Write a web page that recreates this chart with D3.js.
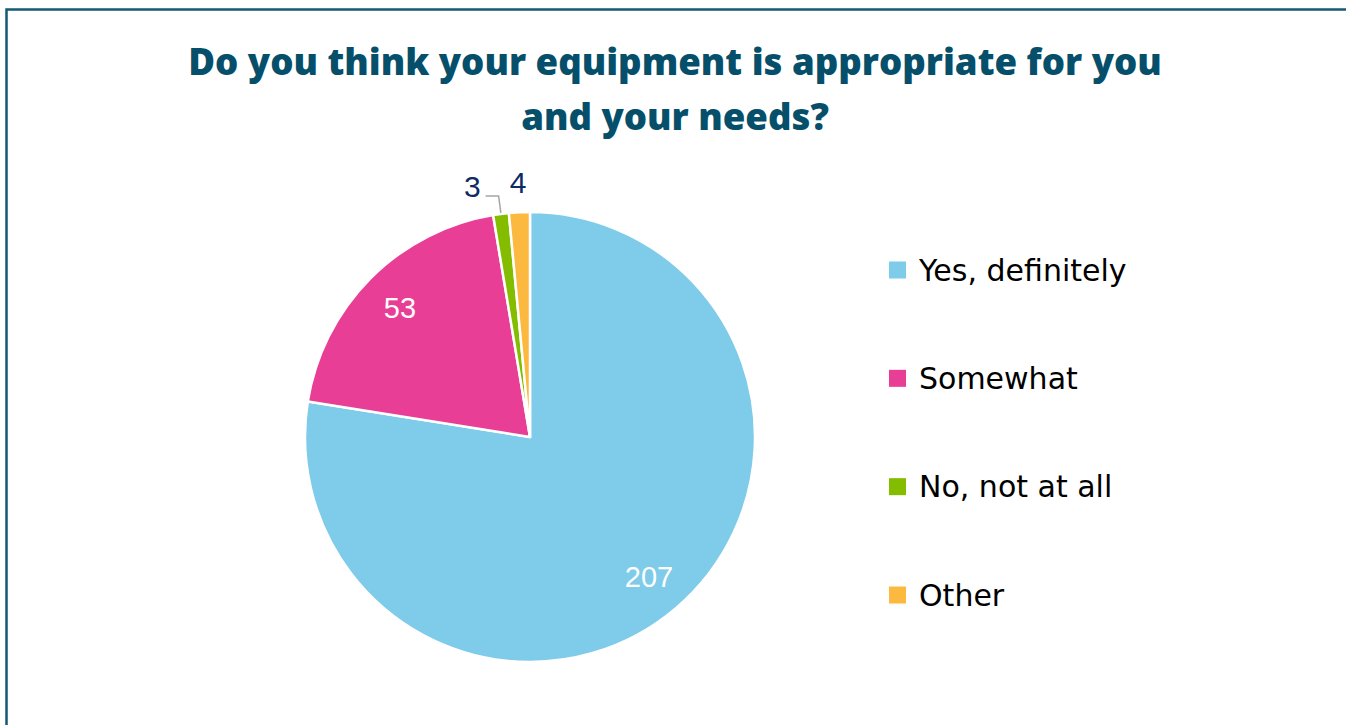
<!DOCTYPE html>
<html>
<head>
<meta charset="utf-8">
<script src="https://cdn.jsdelivr.net/npm/d3@7"></script>
<style>
  html, body { margin: 0; padding: 0; background: #fff; }
  svg { display: block; }
</style>
</head>
<body>
<svg id="chart" width="1346" height="725"></svg>
<script>
// Survey answers and counts
const categories = ["Yes, definitely", "Somewhat", "No, not at all", "Other"];
const counts = [207, 53, 3, 4];
const colors = ["#7ECBEA", "#E83E96", "#84BC00", "#FBB93F"];
const titleLines = ["Do you think your equipment is appropriate for you", "and your needs?"];

const W = 1346, H = 725;
const svg = d3.select("#chart");

// Outer frame
svg.append("rect")
  .attr("x", 6.5).attr("y", 9.5)
  .attr("width", W - 5).attr("height", H + 20)
  .attr("fill", "none")
  .attr("stroke", "#135A74")
  .attr("stroke-width", 2.5);

// Title
const titleFont = "'Open Sans', 'DejaVu Sans', sans-serif";
const title = svg.append("text")
  .attr("text-anchor", "middle")
  .attr("fill", "#064F6A")
  .attr("font-family", titleFont)
  .attr("font-weight", 800)
  .attr("font-size", 36);
titleLines.forEach((t, i) => {
  title.append("tspan").attr("x", 675).attr("y", 75 + i * 55).text(t);
});
// scale title so the first line spans its intended width
{
  const w = title.select("tspan").node().getComputedTextLength();
  const fs = 36 * 974 / w;
  title.attr("font-size", Math.min(fs, 44));
}

// Pie
const cx = 530, cy = 437, R = 225;
const pie = d3.pie().sort(null).value(d => d)(counts);
const arc = d3.arc().innerRadius(0).outerRadius(R);
const g = svg.append("g").attr("transform", `translate(${cx},${cy})`);

g.selectAll("path.slice")
  .data(pie)
  .join("path")
  .attr("class", "slice")
  .attr("d", arc)
  .attr("fill", (d, i) => colors[i])
  .attr("stroke", "#fff")
  .attr("stroke-width", 2.5)
  .attr("stroke-linejoin", "round");

const labelFont = "'Liberation Sans', Arial, sans-serif";
const polar = (a, r) => [r * Math.sin(a), -r * Math.cos(a)];
const mid = d => (d.startAngle + d.endAngle) / 2;

// Inside labels for the large slices
g.selectAll("text.inside")
  .data(pie.filter(d => d.value > 20))
  .join("text")
  .attr("class", "inside")
  .attr("x", d => polar(mid(d), R * 0.815)[0])
  .attr("y", d => polar(mid(d), R * 0.815)[1])
  .attr("dy", "0.35em")
  .attr("text-anchor", "middle")
  .attr("fill", "#fff")
  .attr("font-family", labelFont)
  .attr("font-size", 29)
  .text(d => d.value);

// Outside labels for the thin slices
const small = pie.filter(d => d.value <= 20);
// "No, not at all" with leader line
{
  const d = small[0];
  const a = mid(d);
  const p0 = polar(a, R + 1);
  const p1 = polar(a, R + 18);
  const p2 = [p1[0] - 13, p1[1]];
  g.append("polyline")
    .attr("points", [p0, p1, p2].map(p => p.join(",")).join(" "))
    .attr("fill", "none")
    .attr("stroke", "#A6A6A6")
    .attr("stroke-width", 1.5);
  g.append("text")
    .attr("x", p2[0] - 5)
    .attr("y", p2[1] - 10)
    .attr("dy", "0.35em")
    .attr("text-anchor", "end")
    .attr("fill", "#0E2A66")
    .attr("font-family", labelFont)
    .attr("font-size", 30)
    .text(d.value);
}
// "Other" label directly above its slice
{
  const d = small[1];
  const p = polar(mid(d), R + 30);
  g.append("text")
    .attr("x", p[0])
    .attr("y", p[1])
    .attr("dy", "0.35em")
    .attr("text-anchor", "middle")
    .attr("fill", "#0E2A66")
    .attr("font-family", labelFont)
    .attr("font-size", 30)
    .text(d.value);
}

// Legend
const legendFont = "'DejaVu Sans', 'Open Sans', sans-serif";
const ly = d3.scalePoint().domain(categories).range([270, 595]);
const legend = svg.append("g");
const items = legend.selectAll("g")
  .data(categories)
  .join("g")
  .attr("transform", d => `translate(889,${ly(d)})`);
items.append("rect")
  .attr("x", 0).attr("y", -8.5)
  .attr("width", 17).attr("height", 17)
  .attr("fill", (d, i) => colors[i]);
items.append("text")
  .attr("x", 30)
  .attr("dy", "0.36em")
  .attr("fill", "#000")
  .attr("font-family", legendFont)
  .attr("font-size", 30)
  .text(d => d);
</script>
</body>
</html>
